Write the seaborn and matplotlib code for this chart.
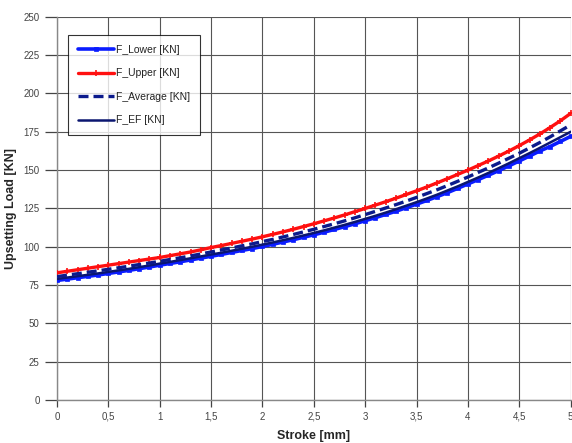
import numpy as np
import pandas as pd
import matplotlib
matplotlib.use("Agg")
import matplotlib.pyplot as plt
import seaborn as sns

# ==========================
# Data
# ==========================
stroke = [round(0.1 * i, 1) for i in range(51)]

f_lower = [78.0, 78.9, 79.8, 80.7, 81.6, 82.6, 83.6, 84.6, 85.7, 86.8, 88.0,
           89.1, 90.2, 91.4, 92.6, 93.8, 95.0, 96.3, 97.6, 98.8, 100.2,
           101.6, 103.1, 104.6, 106.2, 107.8, 109.5, 111.3, 113.1, 115.0, 117.0,
           119.0, 121.1, 123.2, 125.5, 127.8, 130.2, 132.7, 135.3, 138.1, 141.0,
           143.8, 146.7, 149.7, 152.8, 156.0, 159.2, 162.5, 165.4, 168.7, 172.0]

f_upper = [83.0, 84.0, 85.0, 86.0, 87.0, 88.0, 89.0, 90.0, 91.0, 92.0, 93.0,
           94.2, 95.4, 96.6, 98.0, 99.5, 100.8, 102.2, 103.6, 105.0, 106.5,
           108.1, 109.7, 111.4, 113.2, 115.0, 116.9, 118.8, 120.8, 122.9, 125.0,
           127.2, 129.4, 131.7, 134.1, 136.5, 139.0, 141.7, 144.4, 147.2, 150.0,
           153.0, 156.0, 159.2, 162.5, 166.0, 169.7, 173.6, 177.8, 182.2, 187.0]

f_average = [80.5, 81.5, 82.4, 83.4, 84.3, 85.3, 86.3, 87.3, 88.4, 89.4, 90.5,
             91.7, 92.8, 94.0, 95.3, 96.6, 97.9, 99.2, 100.6, 101.9, 103.4,
             104.8, 106.4, 108.0, 109.7, 111.4, 113.2, 115.0, 116.9, 118.9, 121.0,
             123.1, 125.3, 127.5, 129.8, 132.2, 134.7, 137.2, 139.9, 142.7, 145.5,
             148.5, 151.5, 154.6, 157.8, 161.0, 164.5, 168.0, 171.7, 175.6, 179.5]

f_ef = [79.0, 79.9, 80.8, 81.7, 82.6, 83.6, 84.6, 85.6, 86.7, 87.8, 89.0,
        90.1, 91.3, 92.5, 93.7, 94.9, 96.1, 97.4, 98.7, 100.0, 101.4,
        102.8, 104.3, 105.8, 107.4, 109.0, 110.7, 112.5, 114.3, 116.2, 118.2,
        120.2, 122.3, 124.5, 126.8, 129.1, 131.5, 134.0, 136.7, 139.4, 142.3,
        145.2, 148.2, 151.3, 154.5, 157.8, 161.1, 164.5, 168.0, 171.5, 175.0]

x_ticks = [0, 0.5, 1, 1.5, 2, 2.5, 3, 3.5, 4, 4.5, 5]
x_tick_labels = ["0", "0,5", "1", "1,5", "2", "2,5", "3", "3,5", "4", "4,5", "5"]
y_ticks = list(range(0, 251, 25))

df = pd.DataFrame({"Stroke": stroke, "F_Lower [KN]": f_lower,
                   "F_Upper [KN]": f_upper, "F_Average [KN]": f_average,
                   "F_EF [KN]": f_ef})

# ==========================
# Plot
# ==========================
sns.set_style("white")
plt.rcParams["font.family"] = ["Liberation Sans", "DejaVu Sans"]

fig = plt.figure(figsize=(5.72, 4.43), dpi=100)
ax = fig.add_axes([0.0997, 0.097, 0.898, 0.865])

blue = "#0a1cff"
red = "#ff1010"

sns.lineplot(data=df, x="Stroke", y="F_Lower [KN]", ax=ax, color=blue,
             linewidth=2.6, marker="s", markersize=3.5, markeredgewidth=0.5,
             markeredgecolor=blue, label="F_Lower [KN]", zorder=3)
sns.lineplot(data=df, x="Stroke", y="F_Upper [KN]", ax=ax, color=red,
             linewidth=2.4, marker="+", markersize=4.5, markeredgewidth=1.2,
             markeredgecolor=red, label="F_Upper [KN]", zorder=3)
sns.lineplot(data=df, x="Stroke", y="F_Average [KN]", ax=ax, color="#0b1a8c",
             linewidth=2.4, linestyle=(0, (3, 1.5)),
             label="F_Average [KN]", zorder=4)
sns.lineplot(data=df, x="Stroke", y="F_EF [KN]", ax=ax, color="#0b1670",
             linewidth=1.8, label="F_EF [KN]", zorder=3)

ax.set_xlim(0, 5)
ax.set_ylim(0, 250)
ax.set_xticks(x_ticks)
ax.set_xticklabels(x_tick_labels)
ax.set_yticks(y_ticks)
ax.grid(True, color="#555555", linewidth=0.8)
ax.set_axisbelow(True)

for side in ["top", "right"]:
    ax.spines[side].set_visible(False)
for side in ["left", "bottom"]:
    ax.spines[side].set_color("#888888")
    ax.spines[side].set_linewidth(1.0)

ax.tick_params(axis="both", labelsize=7, colors="#444444", length=5,
               width=0.9, direction="out", bottom=True, left=True)
ax.tick_params(axis="y", length=9)

ax.set_xlabel("Stroke [mm]", fontsize=9, fontweight="bold", labelpad=6)
ax.set_ylabel("Upsetting Load [KN]", fontsize=9, fontweight="bold", labelpad=5)

leg = ax.legend(loc="upper left", bbox_to_anchor=(0.012, 0.965), fontsize=7.5,
                frameon=True, fancybox=False, edgecolor="black",
                handlelength=3.5, labelspacing=1.3, borderpad=0.9,
                handletextpad=0.2)
leg.get_frame().set_linewidth(0.8)
for text in leg.get_texts():
    text.set_color("#222222")

plt.savefig("out.png", dpi=100)
plt.close()
